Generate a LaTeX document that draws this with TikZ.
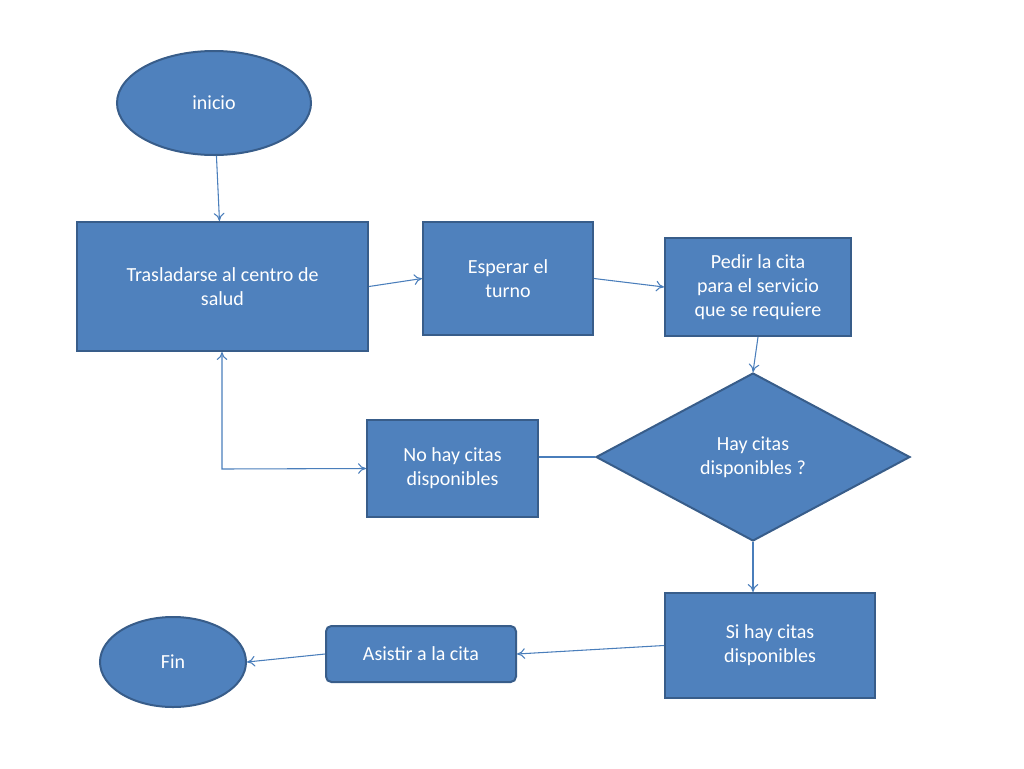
\documentclass[tikz,border=0pt]{standalone}
\usepackage{fontspec}
\setmainfont{Carlito}
\usetikzlibrary{shapes.geometric,arrows.meta}
\definecolor{boxfill}{HTML}{4F81BD}
\definecolor{boxline}{HTML}{385D8A}
\definecolor{conn}{HTML}{4A7EBB}
\begin{document}
\begin{tikzpicture}[x=0.75pt,y=-0.75pt,
  shp/.style={fill=boxfill,draw=boxline,line width=1.5pt,text=white,font=\fontsize{15}{18}\selectfont,align=center,inner sep=0pt},
  arr/.style={draw=conn,line width=0.8pt,-{To[length=6pt,width=8pt]}},
  ln/.style={draw=conn,line width=0.8pt}]
\useasboundingbox (0,0) rectangle (1024,768);
\node[shp,ellipse,minimum width=194*0.75pt,minimum height=104*0.75pt] (ini) at (214,103) {inicio};
\node[shp,rectangle,minimum width=291*0.75pt,minimum height=129*0.75pt] (tras) at (222.5,286.5) {Trasladarse al centro de\\salud};
\node[shp,rectangle,minimum width=170*0.75pt,minimum height=113*0.75pt] (esp) at (508,278.5) {Esperar el\\turno};
\node[shp,rectangle,minimum width=186*0.75pt,minimum height=98*0.75pt] (ped) at (758,287) {Pedir la cita\\para el servicio\\que se requiere};
\node[shp,diamond,minimum width=314*0.75pt,minimum height=168*0.75pt] (dia) at (753,457) {Hay citas\\disponibles ?};
\node[shp,rectangle,minimum width=171*0.75pt,minimum height=97*0.75pt] (no) at (452.5,468.5) {No hay citas\\disponibles};
\node[shp,rectangle,minimum width=210*0.75pt,minimum height=105*0.75pt] (si) at (770,645.5) {Si hay citas\\disponibles};
\node[shp,rectangle,rounded corners=4pt,minimum width=190*0.75pt,minimum height=56*0.75pt] (asi) at (421,654) {Asistir a la cita};
\node[shp,ellipse,minimum width=146*0.75pt,minimum height=90*0.75pt] (fin) at (173,662) {Fin};
\coordinate (corner) at (222,469);
\draw[arr] (ini) -- (tras);
\draw[arr] (tras.east) ++(0,0) -- (esp.west);
\draw[arr] (esp.east) -- (ped.west);
\draw[arr] (ped.south) -- (dia.north);
\draw[ln] (dia.west) -- (no.east |- dia.west);
\draw[draw=conn,line width=0.8pt,{To[length=6pt,width=8pt]}-{To[length=6pt,width=8pt]}] (tras.south -| corner) -- (corner) -- (no.west);
\draw[arr] (dia.south) -- (si.north -| dia.south);
\draw[arr] (si.west) -- (asi.east);
\draw[arr] (asi.west) -- (fin.east);
\end{tikzpicture}
\end{document}
